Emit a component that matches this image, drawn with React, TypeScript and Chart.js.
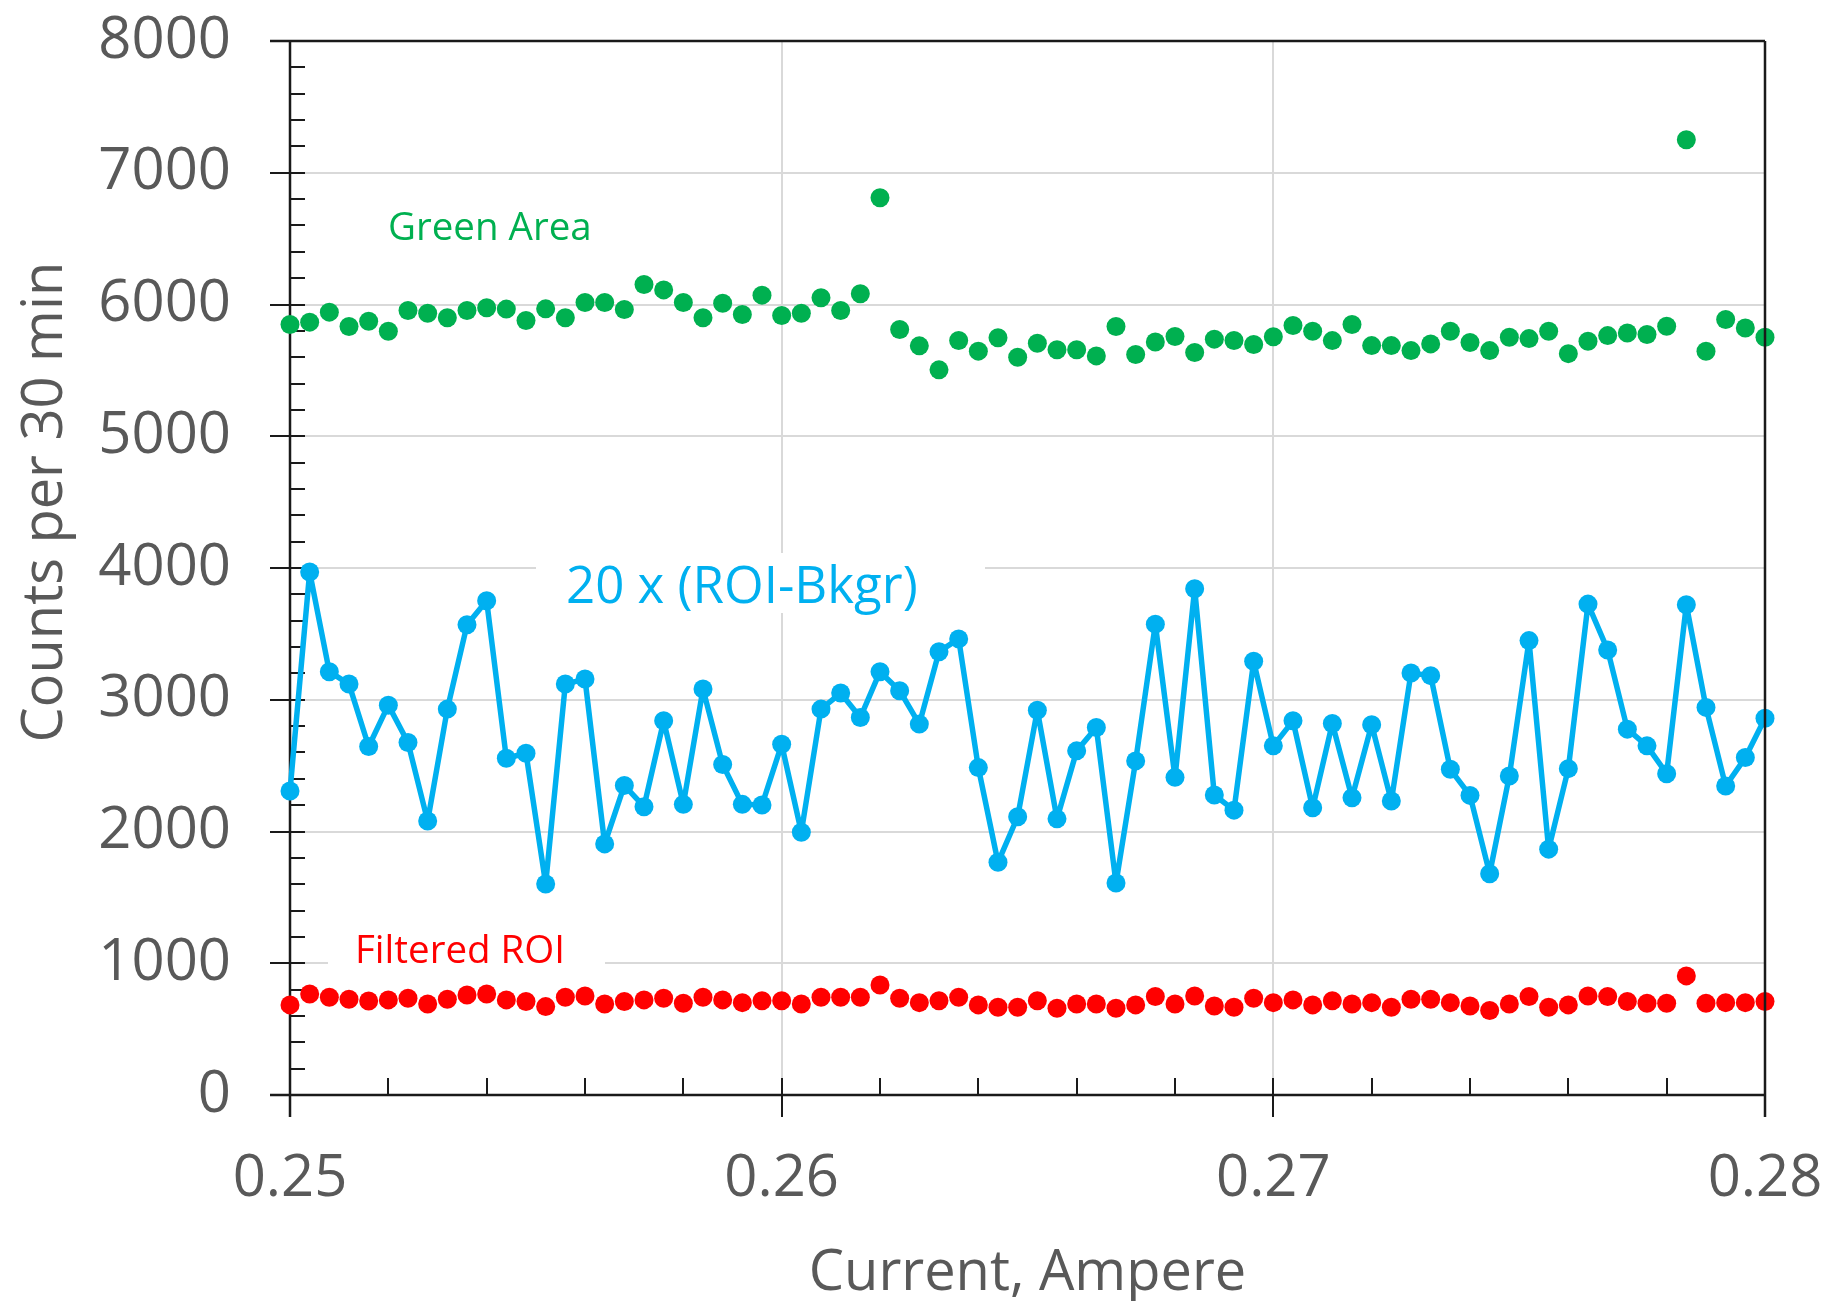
import { useEffect, useRef } from 'react';
import { Chart, registerables } from 'chart.js';

Chart.register(...registerables);

// Current, Ampere
const currents = [
  0.2500, 0.2504, 0.2508, 0.2512, 0.2516, 0.2520, 0.2524, 0.2528, 0.2532, 0.2536,
  0.2540, 0.2544, 0.2548, 0.2552, 0.2556, 0.2560, 0.2564, 0.2568, 0.2572, 0.2576,
  0.2580, 0.2584, 0.2588, 0.2592, 0.2596, 0.2600, 0.2604, 0.2608, 0.2612, 0.2616,
  0.2620, 0.2624, 0.2628, 0.2632, 0.2636, 0.2640, 0.2644, 0.2648, 0.2652, 0.2656,
  0.2660, 0.2664, 0.2668, 0.2672, 0.2676, 0.2680, 0.2684, 0.2688, 0.2692, 0.2696,
  0.2700, 0.2704, 0.2708, 0.2712, 0.2716, 0.2720, 0.2724, 0.2728, 0.2732, 0.2736,
  0.2740, 0.2744, 0.2748, 0.2752, 0.2756, 0.2760, 0.2764, 0.2768, 0.2772, 0.2776,
  0.2780, 0.2784, 0.2788, 0.2792, 0.2796, 0.2800,
];

// Green Area counts per 30 min
const greenArea = [
  5848, 5866, 5942, 5833, 5873, 5797, 5954, 5934, 5899, 5954,
  5975, 5965, 5878, 5967, 5899, 6015, 6015, 5962, 6152, 6111,
  6015, 5899, 6010, 5924, 6071, 5916, 5934, 6051, 5954, 6081,
  6810, 5810, 5686, 5504, 5727, 5646, 5747, 5600, 5706, 5656,
  5656, 5610, 5833, 5620, 5716, 5757, 5635, 5737, 5727, 5696,
  5755, 5840, 5797, 5726, 5848, 5688, 5688, 5650, 5701, 5797,
  5711, 5650, 5751, 5741, 5797, 5627, 5721, 5764, 5784, 5772,
  5835, 7251, 5645, 5886, 5822, 5751,
];

// 20 x (ROI-Bkgr)
const roiMinusBkgr20x = [
  2307, 3970, 3213, 3119, 2645, 2959, 2675, 2079, 2929, 3569,
  3751, 2556, 2594, 1602, 3119, 3157, 1906, 2350, 2188, 2840,
  2206, 3081, 2508, 2206, 2201, 2662, 1995, 2929, 3051, 2865,
  3213, 3069, 2815, 3365, 3462, 2485, 1766, 2112, 2921, 2096,
  2612, 2789, 1609, 2536, 3574, 2411, 3843, 2277, 2162, 3292,
  2650, 2840, 2180, 2820, 2256, 2810, 2231, 3203, 3183, 2472,
  2274, 1680, 2421, 3449, 1866, 2477, 3726, 3378, 2777, 2650,
  2439, 3721, 2942, 2345, 2561, 2860,
];

// Filtered ROI
const filteredRoi = [
  684, 767, 742, 727, 714, 722, 734, 691, 727, 759,
  767, 722, 709, 671, 742, 752, 691, 709, 722, 734,
  696, 742, 722, 701, 716, 716, 691, 742, 742, 742,
  835, 734, 701, 716, 742, 684, 666, 666, 716, 658,
  691, 691, 658, 684, 747, 691, 752, 676, 666, 734,
  701, 722, 684, 716, 691, 701, 666, 727, 727, 701,
  676, 641, 691, 747, 666, 684, 752, 747, 709, 696,
  696, 904, 696, 701, 701, 709,
];

const xMin = 0.25;
const xMax = 0.28;
const xMajorStep = 0.01;
const xMinorStep = 0.002;
const yMin = 0;
const yMax = 8000;
const yMajorStep = 1000;
const yMinorStep = 200;

const xTitle = 'Current, Ampere';
const yTitle = 'Counts per 30 min';
const labelGreen = 'Green Area';
const labelBlue = '20 x (ROI-Bkgr)';
const labelRed = 'Filtered ROI';

const GREEN = '#00B050';
const BLUE = '#00B0F0';
const RED = '#FF0000';
const TEXT = '#595959';
const GRID = '#D9D9D9';
const AXIS = '#1a1a1a';
const FONT = "'Open Sans', sans-serif";

const decorPlugin = {
  id: 'decor',
  beforeDatasetsDraw(chart: any) {
    const { ctx, scales } = chart;
    const xs = scales.x;
    const ys = scales.y;
    const left = xs.getPixelForValue(xMin);
    const right = xs.getPixelForValue(xMax);
    const top = ys.getPixelForValue(yMax);
    const bottom = ys.getPixelForValue(yMin);
    ctx.save();
    // white label backgrounds
    ctx.fillStyle = '#ffffff';
    ctx.fillRect(536, 553, 449, 60);
    ctx.fillRect(328, 922, 277, 50);
    // annotation texts
    ctx.textAlign = 'left';
    ctx.textBaseline = 'alphabetic';
    ctx.fillStyle = GREEN;
    ctx.font = `38.5px ${FONT}`;
    ctx.fillText(labelGreen, 388, 240);
    ctx.fillStyle = BLUE;
    ctx.font = `51px ${FONT}`;
    ctx.fillText(labelBlue, 566, 603);
    ctx.fillStyle = RED;
    ctx.font = `38.5px ${FONT}`;
    ctx.fillText(labelRed, 355, 963);

    // axes lines and frame
    ctx.strokeStyle = AXIS;
    ctx.lineWidth = 2.5;
    ctx.beginPath();
    ctx.moveTo(left, top);
    ctx.lineTo(left, bottom + 22);
    ctx.moveTo(left - 20, bottom);
    ctx.lineTo(right, bottom);
    ctx.moveTo(left - 20, top);
    ctx.lineTo(right, top);
    ctx.stroke();

    // y ticks
    ctx.lineWidth = 2;
    ctx.beginPath();
    for (let v = yMin; v <= yMax + 0.5; v += yMinorStep) {
      const py = Math.round(ys.getPixelForValue(v));
      const major = Math.abs(v % yMajorStep) < 1e-6;
      ctx.moveTo(major ? left - 20 : left, py);
      ctx.lineTo(left + 15, py);
    }
    // x ticks
    const n = Math.round((xMax - xMin) / xMinorStep);
    const per = Math.round(xMajorStep / xMinorStep);
    for (let i = 0; i <= n; i++) {
      const v = xMin + i * xMinorStep;
      const px = Math.round(xs.getPixelForValue(v));
      const major = i % per === 0;
      ctx.moveTo(px, bottom - 17);
      ctx.lineTo(px, major ? bottom + 22 : bottom);
    }
    ctx.stroke();

    // axis titles
    ctx.fillStyle = TEXT;
    ctx.font = `56px ${FONT}`;
    ctx.textAlign = 'center';
    ctx.textBaseline = 'alphabetic';
    ctx.fillText(xTitle, (left + right) / 2, 1290);
    ctx.save();
    ctx.translate(62, 502);
    ctx.rotate(-Math.PI / 2);
    ctx.font = `56px ${FONT}`;
    ctx.fillText(yTitle, 0, 0);
    ctx.restore();
    ctx.restore();
  },
  afterDatasetsDraw(chart: any) {
    const { ctx, scales } = chart;
    const xs = scales.x;
    const ys = scales.y;
    const right = xs.getPixelForValue(xMax);
    const top = ys.getPixelForValue(yMax);
    const bottom = ys.getPixelForValue(yMin);
    ctx.save();
    ctx.strokeStyle = AXIS;
    ctx.lineWidth = 2.5;
    ctx.beginPath();
    ctx.moveTo(right, top);
    ctx.lineTo(right, bottom + 22);
    ctx.stroke();
    ctx.restore();
  },
};

const zeroPad = (s: any) => {
  s.paddingTop = 0;
  s.paddingBottom = 0;
  s.paddingLeft = 0;
  s.paddingRight = 0;
};

export default function App() {
  const ref = useRef<HTMLCanvasElement | null>(null);

  useEffect(() => {
    document.body.style.margin = '0';
    const canvas = ref.current;
    if (!canvas) return;
    const pts = (ys: number[]) => currents.map((x, i) => ({ x, y: ys[i] }));
    const chart = new Chart(canvas, {
      type: 'line',
      data: {
        datasets: [
          {
            label: labelGreen,
            data: pts(greenArea),
            showLine: false,
            pointRadius: 9.5,
            pointBackgroundColor: GREEN,
            pointBorderColor: GREEN,
            pointBorderWidth: 0,
            borderColor: GREEN,
            backgroundColor: GREEN,
            clip: false as any,
          },
          {
            label: labelBlue,
            data: pts(roiMinusBkgr20x),
            showLine: true,
            borderColor: BLUE,
            borderWidth: 5.5,
            borderJoinStyle: 'round',
            pointRadius: 9.5,
            pointBackgroundColor: BLUE,
            pointBorderColor: BLUE,
            pointBorderWidth: 0,
            backgroundColor: BLUE,
            tension: 0,
            clip: false as any,
          },
          {
            label: labelRed,
            data: pts(filteredRoi),
            showLine: false,
            pointRadius: 9.5,
            pointBackgroundColor: RED,
            pointBorderColor: RED,
            pointBorderWidth: 0,
            borderColor: RED,
            backgroundColor: RED,
            clip: false as any,
          },
        ],
      },
      options: {
        responsive: false,
        animation: false,
        devicePixelRatio: 1,
        layout: { padding: { left: 0, right: 62, top: 41, bottom: 0 } },
        plugins: {
          legend: { display: false },
          tooltip: { enabled: false },
          title: { display: false },
        },
        scales: {
          x: {
            type: 'linear',
            min: xMin,
            max: xMax,
            border: { display: false },
            grid: { color: GRID, lineWidth: 2, drawTicks: false },
            ticks: {
              stepSize: xMajorStep,
              color: TEXT,
              font: { family: FONT, size: 58 },
              padding: 50,
              maxRotation: 0,
              autoSkip: false,
              callback: (v: any) => Number(v).toFixed(2),
            },
            afterFit: (s: any) => {
              s.height = 206;
              zeroPad(s);
            },
          },
          y: {
            type: 'linear',
            min: yMin,
            max: yMax,
            border: { display: false },
            grid: { color: GRID, lineWidth: 2, drawTicks: false },
            ticks: {
              stepSize: yMajorStep,
              color: TEXT,
              font: { family: FONT, size: 58 },
              padding: 59,
              callback: (v: any) => String(v),
            },
            afterFit: (s: any) => {
              s.width = 290;
              zeroPad(s);
            },
          },
        },
      },
      plugins: [decorPlugin],
    });
    return () => chart.destroy();
  }, []);

  return (
    <canvas
      ref={ref}
      width={1827}
      height={1301}
      style={{ display: 'block', width: '1827px', height: '1301px' }}
    />
  );
}
